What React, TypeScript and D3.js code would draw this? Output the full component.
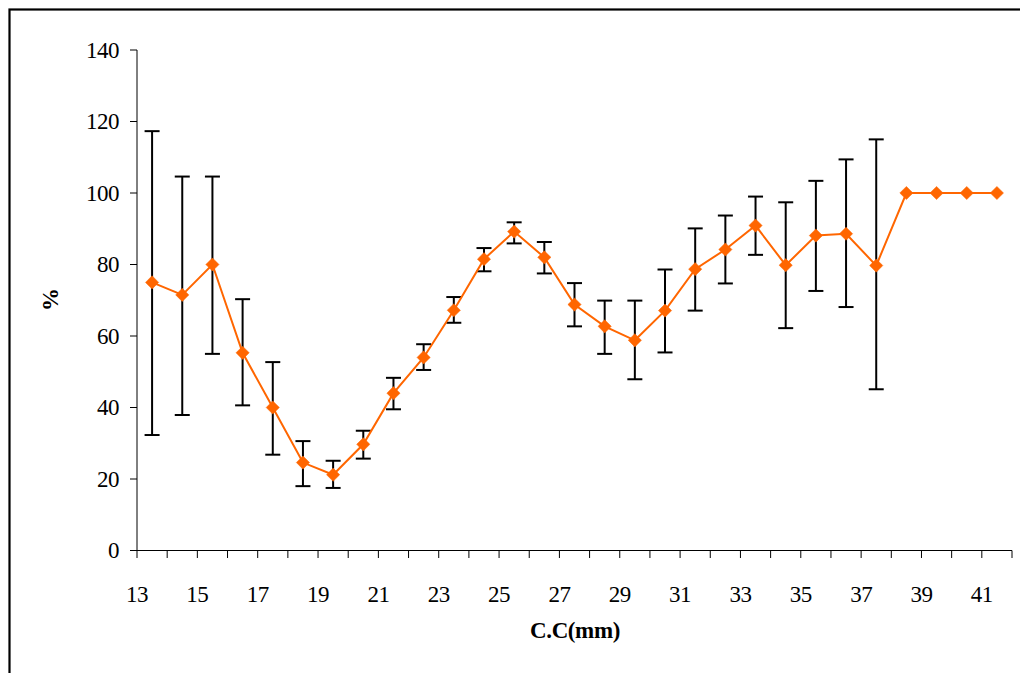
import React from "react";
import * as d3 from "d3";

const xValues = [13.5, 14.5, 15.5, 16.5, 17.5, 18.5, 19.5, 20.5, 21.5, 22.5, 23.5, 24.5, 25.5, 26.5, 27.5, 28.5, 29.5, 30.5, 31.5, 32.5, 33.5, 34.5, 35.5, 36.5, 37.5, 38.5, 39.5, 40.5, 41.5];
const means = [75, 71.5, 80, 55.3, 40, 24.6, 21.2, 29.7, 44, 54, 67.2, 81.5, 89.2, 82, 68.8, 62.7, 58.8, 67.1, 78.7, 84.2, 90.9, 79.8, 88.1, 88.6, 79.7, 100, 100, 100, 100];
const upper = [117.3, 104.6, 104.6, 70.3, 52.7, 30.6, 25.1, 33.5, 48.3, 57.7, 70.9, 84.6, 91.8, 86.3, 74.8, 69.9, 69.9, 78.6, 90.1, 93.7, 99.0, 97.4, 103.4, 109.4, 115.0, 100, 100, 100, 100];
const lower = [32.3, 37.9, 55.0, 40.6, 26.8, 18.0, 17.5, 25.7, 39.5, 50.5, 63.7, 78.1, 85.9, 77.5, 62.7, 55.0, 47.9, 55.4, 67.1, 74.7, 82.7, 62.2, 72.6, 68.1, 45.1, 100, 100, 100, 100];
const yTicks = [0, 20, 40, 60, 80, 100, 120, 140];
const xTickLabels = [13, 15, 17, 19, 21, 23, 25, 27, 29, 31, 33, 35, 37, 39, 41];
const xMinorTicks = d3.range(13, 43, 1);

export default function App() {
  const W = 1020, H = 673;
  const left = 137, right = 1012, top = 50, bottom = 550.5;
  const x = d3.scaleLinear().domain([13, 42]).range([left, right]);
  const y = d3.scaleLinear().domain([0, 140]).range([bottom, top]);
  const font = "'Liberation Serif', 'Times New Roman', serif";
  const line = d3.line<number>().x((_, i) => x(xValues[i])).y((d) => y(d));
  const diamond = (cx: number, cy: number, r: number) =>
    `M${cx},${cy - r}L${cx + r},${cy}L${cx},${cy + r}L${cx - r},${cy}Z`;
  return (
    <svg width={W} height={H} style={{ position: "absolute", left: 0, top: 0, background: "#fff" }}>
      <defs>
        <clipPath id="ylab">
          <rect x={0} y={288} width={100} height={60} />
        </clipPath>
      </defs>
      <rect x={0} y={0} width={W} height={H} fill="#fff" />
      <rect x={9.5} y={9.5} width={1040} height={700} fill="none" stroke="#000" strokeWidth={2.2} />
      {/* Y axis */}
      <line x1={left} x2={left} y1={top} y2={bottom} stroke="#000" strokeWidth={1} />
      {yTicks.map((t) => (
        <g key={"y" + t}>
          <line x1={left - 7} x2={left} y1={y(t)} y2={y(t)} stroke="#000" strokeWidth={1} />
          <text x={119} y={y(t) + 7.8} textAnchor="end" fontFamily={font} fontSize={23} fill="#000" letterSpacing={-0.5}>{t}</text>
        </g>
      ))}
      {/* X axis */}
      <line x1={left} x2={right} y1={bottom} y2={bottom} stroke="#000" strokeWidth={1} />
      {xMinorTicks.map((t) => (
        <line key={"xt" + t} x1={x(t)} x2={x(t)} y1={bottom} y2={bottom + 7.5} stroke="#000" strokeWidth={1} />
      ))}
      {xTickLabels.map((t) => (
        <text key={"xl" + t} x={x(t)} y={602} textAnchor="middle" fontFamily={font} fontSize={23} fill="#000" letterSpacing={-0.5}>{t}</text>
      ))}
      <text x={575} y={638} textAnchor="middle" fontFamily={font} fontSize={23} fontWeight="bold" fill="#000" letterSpacing={-0.4}>C.C(mm)</text>
      <g clipPath="url(#ylab)">
        <text transform={`translate(58,311) rotate(-90)`} textAnchor="start" fontFamily={font} fontSize={23} fontWeight="bold" fill="#000">%(</text>
      </g>
      {/* Error bars */}
      {xValues.map((xv, i) =>
        upper[i] - lower[i] > 0.5 ? (
          <g key={"e" + i} stroke="#000" strokeWidth={2}>
            <line x1={x(xv)} x2={x(xv)} y1={y(upper[i])} y2={y(lower[i])} />
            <line x1={x(xv) - 7.5} x2={x(xv) + 7.5} y1={y(upper[i])} y2={y(upper[i])} />
            <line x1={x(xv) - 7.5} x2={x(xv) + 7.5} y1={y(lower[i])} y2={y(lower[i])} />
          </g>
        ) : null
      )}
      <path d={line(means) || ""} fill="none" stroke="#FF6600" strokeWidth={2} />
      {means.map((m, i) => (
        <path key={"m" + i} d={diamond(x(xValues[i]), y(m), 6.6)} fill="#FF6600" stroke="#FF6600" strokeWidth={0.5} />
      ))}
    </svg>
  );
}
